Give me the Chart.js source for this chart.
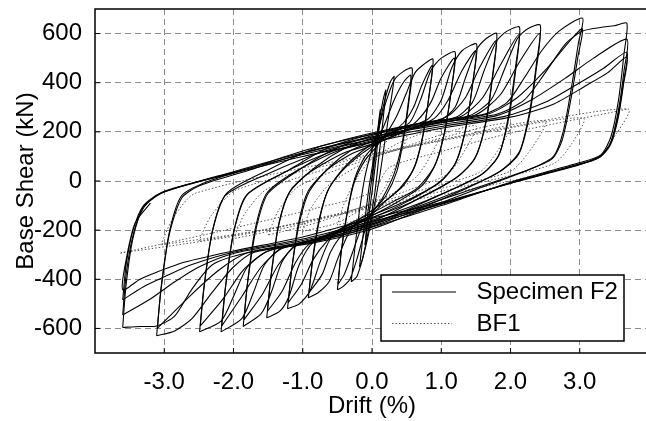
<!DOCTYPE html>
<html><head><meta charset="utf-8">
<script src="https://cdn.jsdelivr.net/npm/chart.js@4.4.1/dist/chart.umd.min.js"></script>
<style>html,body{margin:0;padding:0;background:#fff;overflow:hidden;width:646px;height:421px}</style>
</head><body>
<canvas id="c" width="660" height="421" style="display:block"></canvas>
<script>
const xTicks = [-3, -2, -1, 0, 1, 2, 3];
const xTickLabels = ['-3.0', '-2.0', '-1.0', '0.0', '1.0', '2.0', '3.0'];
const yTicks = [-600, -400, -200, 0, 200, 400, 600];
const seriesNames = ['Specimen F2', 'BF1'];

// Specimen F2 cycles: [drift %, base shear kN]
const f2c0 = [[0,0],[0.05,120],[0.1,250],[0.12,290],[0.08,150],[0.02,0],[-0.04,-130],[-0.1,-260]];
const f2c1 = [[-0.1,-260],[-0.06,-130],[0,20],[0.08,200],[0.16,330],[0.2,370],[0.16,250],[0.1,100],[0.04,-50],[-0.05,-200],[-0.14,-320],[-0.18,-350]];
const f2c2 = [[-0.18,-350],[-0.12,-200],[-0.04,-20],[0.06,150],[0.16,300],[0.26,400],[0.32,425],[0.26,300],[0.18,150],[0.1,0],[0,-150],[-0.12,-300],[-0.22,-390],[-0.3,-410]];
const f2c3 = [[-0.3,-410],[-0.25,-280],[-0.18,-120],[-0.1,20],[0,130],[0.1,220],[0.2,320],[0.32,410],[0.45,445],[0.58,459],[0.54,340],[0.46,180],[0.36,40],[0.2,-60],[0,-130],[-0.1,-200],[-0.22,-320],[-0.32,-400],[-0.42,-430],[-0.5,-443]];
const f2c4 = [[-0.5,-443],[-0.45,-300],[-0.36,-130],[-0.25,10],[-0.1,100],[0.05,150],[0.18,230],[0.32,330],[0.45,400],[0.56,430],[0.52,310],[0.44,160],[0.32,30],[0.15,-70],[0,-130],[-0.15,-190],[-0.28,-290],[-0.4,-380],[-0.49,-420]];
const f2c5 = [[-0.49,-420],[-0.44,-280],[-0.35,-120],[-0.25,0],[-0.1,85],[0.05,135],[0.2,190],[0.35,260],[0.5,360],[0.62,440],[0.75,475],[0.88,496],[0.83,360],[0.74,190],[0.62,60],[0.45,-20],[0.2,-80],[0,-120],[-0.2,-160],[-0.35,-220],[-0.5,-320],[-0.62,-410],[-0.78,-455],[-0.92,-476]];
const f2c6 = [[-0.92,-476],[-0.86,-330],[-0.76,-160],[-0.64,-40],[-0.45,35],[-0.2,100],[0,140],[0.25,190],[0.45,235],[0.6,300],[0.72,390],[0.87,470],[0.82,340],[0.73,180],[0.6,50],[0.4,-30],[0.2,-80],[0,-135],[-0.25,-180],[-0.45,-225],[-0.6,-290],[-0.72,-380],[-0.91,-455]];
const f2c7 = [[-0.91,-455],[-0.85,-300],[-0.75,-140],[-0.62,-30],[-0.4,55],[-0.15,120],[0.1,170],[0.35,205],[0.55,240],[0.7,330],[0.85,450],[1.0,500],[1.2,525],[1.15,380],[1.05,200],[0.92,70],[0.72,-20],[0.4,-80],[0,-140],[-0.4,-190],[-0.6,-235],[-0.75,-330],[-0.9,-450],[-1.05,-500],[-1.22,-520]];
const f2c8 = [[-1.22,-520],[-1.16,-360],[-1.06,-170],[-0.92,-40],[-0.65,45],[-0.3,110],[0,145],[0.4,195],[0.65,245],[0.85,320],[1.0,420],[1.19,500],[1.14,360],[1.04,190],[0.9,60],[0.65,-30],[0.3,-85],[0,-130],[-0.4,-185],[-0.65,-245],[-0.85,-320],[-1.02,-420],[-1.21,-495]];
const f2c9 = [[-1.21,-495],[-1.15,-340],[-1.04,-160],[-0.9,-40],[-0.6,60],[-0.3,125],[0,160],[0.4,210],[0.8,250],[1.0,330],[1.15,460],[1.3,530],[1.51,557],[1.46,410],[1.36,220],[1.22,80],[1.0,0],[0.5,-85],[0,-150],[-0.5,-205],[-0.85,-250],[-1.05,-340],[-1.2,-470],[-1.33,-530],[-1.52,-557]];
const f2c10 = [[-1.52,-557],[-1.46,-390],[-1.35,-180],[-1.2,-50],[-0.9,35],[-0.4,115],[0,150],[0.5,205],[0.9,255],[1.1,330],[1.3,450],[1.5,530],[1.45,390],[1.35,210],[1.2,70],[0.95,-10],[0.5,-80],[0,-140],[-0.5,-200],[-0.9,-255],[-1.1,-330],[-1.3,-450],[-1.51,-530]];
const f2c11 = [[-1.51,-530],[-1.45,-370],[-1.34,-170],[-1.18,-40],[-0.8,60],[-0.4,132],[0,175],[0.5,218],[1.0,250],[1.2,300],[1.35,420],[1.5,530],[1.65,580],[1.8,600],[1.75,450],[1.65,250],[1.5,100],[1.25,20],[0.6,-82],[0,-165],[-0.6,-222],[-1.1,-260],[-1.3,-330],[-1.45,-450],[-1.6,-540],[-1.86,-592]];
const f2c12 = [[-1.86,-592],[-1.8,-420],[-1.69,-200],[-1.52,-50],[-1.1,40],[-0.5,122],[0,160],[0.6,218],[1.1,265],[1.35,340],[1.55,460],[1.79,570],[1.74,420],[1.64,230],[1.48,90],[1.2,10],[0.6,-82],[0,-150],[-0.6,-218],[-1.1,-265],[-1.35,-340],[-1.58,-460],[-1.85,-565]];
const f2c13 = [[-1.85,-565],[-1.79,-400],[-1.67,-190],[-1.5,-50],[-1.0,55],[-0.5,135],[0,185],[0.6,230],[1.2,258],[1.45,320],[1.62,450],[1.8,570],[1.95,610],[2.13,626],[2.08,480],[1.98,280],[1.84,110],[1.6,30],[0.8,-80],[0,-175],[-0.7,-235],[-1.3,-272],[-1.55,-340],[-1.72,-460],[-1.88,-560],[-2.18,-614]];
const f2c14 = [[-2.18,-614],[-2.12,-440],[-2.0,-210],[-1.82,-60],[-1.3,30],[-0.6,118],[0,165],[0.7,225],[1.3,265],[1.6,340],[1.85,470],[2.12,595],[2.07,440],[1.97,250],[1.82,100],[1.55,20],[0.8,-78],[0,-160],[-0.7,-228],[-1.3,-275],[-1.6,-350],[-1.88,-470],[-2.17,-590]];
const f2c15 = [[-2.17,-590],[-2.11,-420],[-1.99,-200],[-1.8,-55],[-1.2,45],[-0.6,140],[0,190],[0.7,235],[1.4,265],[1.72,330],[1.92,460],[2.1,580],[2.25,620],[2.43,634],[2.38,490],[2.28,290],[2.13,120],[1.85,40],[1.0,-75],[0,-185],[-0.8,-245],[-1.5,-285],[-1.8,-350],[-2.0,-470],[-2.18,-570],[-2.49,-614]];
const f2c16 = [[-2.49,-614],[-2.43,-440],[-2.31,-210],[-2.12,-60],[-1.5,30],[-0.7,120],[0,170],[0.8,228],[1.5,270],[1.85,350],[2.12,480],[2.42,600],[2.37,450],[2.27,260],[2.12,110],[1.8,30],[1.0,-68],[0,-170],[-0.8,-235],[-1.5,-285],[-1.85,-360],[-2.15,-480],[-2.48,-590]];
const f2c17 = [[-2.48,-590],[-2.42,-420],[-2.3,-200],[-2.1,-50],[-1.5,45],[-0.8,135],[0,195],[0.8,240],[1.6,270],[1.95,320],[2.2,420],[2.45,530],[2.7,610],[3.04,663],[2.98,560],[2.88,380],[2.76,200],[2.62,100],[2.3,50],[1.5,-35],[0.7,-120],[0,-195],[-0.9,-255],[-1.7,-290],[-2.0,-350],[-2.3,-450],[-2.6,-560],[-2.85,-610],[-3.11,-630]];
const f2c18 = [[-3.11,-630],[-3.05,-450],[-2.93,-220],[-2.75,-70],[-2.5,-20],[-1.8,42],[-0.9,120],[0,178],[0.9,232],[1.7,275],[2.1,340],[2.5,450],[3.03,620],[2.97,500],[2.87,330],[2.75,170],[2.6,90],[2.2,40],[1.4,-38],[0.6,-115],[0,-180],[-0.9,-245],[-1.8,-292],[-2.2,-360],[-2.6,-460],[-3.1,-600]];
const f2c19 = [[-3.1,-600],[-3.04,-420],[-2.92,-200],[-2.75,-60],[-2.4,-5],[-1.7,58],[-0.9,130],[0,190],[0.9,235],[1.8,272],[2.2,330],[2.5,440],[2.8,560],[3.04,610],[3.3,625],[3.5,632],[3.68,642],[3.64,520],[3.56,330],[3.45,180],[3.3,105],[3.0,75],[2.0,-5],[1.0,-100],[0,-188],[-0.9,-250],[-1.8,-292],[-2.3,-340],[-2.6,-440],[-2.85,-550],[-3.11,-590],[-3.35,-592],[-3.6,-596]];
const f2c20 = [[-3.6,-596],[-3.55,-420],[-3.45,-230],[-3.3,-110],[-3.05,-50],[-2.0,38],[-1.0,115],[0,180],[1.0,230],[1.8,266],[2.3,330],[2.8,420],[3.2,500],[3.68,577],[3.64,450],[3.56,290],[3.45,160],[3.3,100],[3.0,70],[2.0,-8],[1.0,-95],[0,-175],[-1.0,-242],[-2.0,-295],[-2.5,-350],[-2.9,-420],[-3.2,-480],[-3.6,-545]];
const f2c21 = [[-3.6,-545],[-3.55,-380],[-3.45,-220],[-3.3,-105],[-3.0,-45],[-2.0,35],[-1.0,108],[0,170],[1.0,222],[1.9,262],[2.5,320],[3.0,400],[3.35,460],[3.68,524],[3.63,400],[3.55,260],[3.44,150],[3.28,98],[3.0,68],[2.0,-8],[1.0,-92],[0,-165],[-1.0,-236],[-2.0,-290],[-2.6,-340],[-3.0,-390],[-3.3,-430],[-3.6,-484]];
const f2c22 = [[-3.6,-484],[-3.55,-340],[-3.45,-200],[-3.3,-100],[-3.0,-42],[-2.0,32],[-1.0,100],[0,158],[1.0,215],[2.0,260],[2.6,310],[3.1,390],[3.4,440],[3.68,504],[3.63,390],[3.55,250],[3.44,145],[3.28,95],[3.0,66],[2.0,-10],[1.0,-88],[0,-152],[-1.0,-228],[-2.0,-285],[-2.7,-330],[-3.1,-370],[-3.35,-400],[-3.6,-443],[-3.55,-320],[-3.42,-170],[-3.2,-90]];

// BF1 cycles
const bf1c0 = [[0,0],[0.1,120],[0.25,170],[0.5,190],[0.4,100],[0.2,-20],[0,-100],[-0.25,-160],[-0.5,-180]];
const bf1c1 = [[-0.5,-180],[-0.4,-90],[-0.2,20],[0,90],[0.5,170],[1.0,210],[0.88,120],[0.65,20],[0.3,-50],[0,-90],[-0.5,-170],[-1.0,-205]];
const bf1c2 = [[-1.0,-205],[-0.88,-110],[-0.6,-10],[0,90],[0.8,170],[1.5,225],[1.35,130],[1.1,30],[0.5,-40],[0,-90],[-0.8,-170],[-1.5,-220]];
const bf1c3 = [[-1.5,-220],[-1.35,-120],[-1.05,-20],[0,95],[1.0,175],[2.0,235],[1.83,130],[1.55,35],[0.8,-30],[0,-95],[-1.0,-175],[-2.0,-235]];
const bf1c4 = [[-2.0,-235],[-1.83,-130],[-1.5,-30],[0,100],[1.3,185],[2.5,245],[2.32,140],[2.0,40],[1.0,-30],[0,-100],[-1.3,-185],[-2.5,-245]];
const bf1c5 = [[-2.5,-245],[-2.32,-140],[-1.95,-35],[0,105],[1.6,195],[3.05,256],[2.88,150],[2.62,70],[1.5,-10],[0,-105],[-1.6,-200],[-3.05,-260]];
const bf1c6 = [[-3.05,-260],[-2.87,-150],[-2.55,-50],[0,110],[1.8,210],[3.7,293],[3.5,180],[3.28,95],[2.0,0],[0,-110],[-2.0,-225],[-3.63,-293]];
const bf1c7 = [[-3.63,-293],[-2.2,-205],[-0.8,-110],[0,-45],[0.25,55],[1.0,120],[2.0,195],[3.7,293]];

const f2Loops = [f2c0,f2c1,f2c2,f2c3,f2c4,f2c5,f2c6,f2c7,f2c8,f2c9,f2c10,f2c11,f2c12,f2c13,f2c14,f2c15,f2c16,f2c17,f2c18,f2c19,f2c20,f2c21,f2c22];
const bf1Loops = [bf1c0,bf1c1,bf1c2,bf1c3,bf1c4,bf1c5,bf1c6,bf1c7];

const FONT = "'Liberation Sans', Arial, Helvetica, sans-serif";
const toPts = loop => loop.map(p => ({x: p[0], y: p[1]}));

const datasets = [];
f2Loops.forEach(l => datasets.push({label: seriesNames[0], data: toPts(l), showLine: true, borderColor: '#000', borderWidth: 1.1, pointRadius: 0, tension: 0.25, fill: false}));
bf1Loops.forEach(l => datasets.push({label: seriesNames[1], data: toPts(l), showLine: true, borderColor: '#555', borderWidth: 1, borderDash: [1.5, 2], pointRadius: 0, tension: 0.25, fill: false}));

const framePlugin = {
  id: 'frame',
  afterDraw(chart) {
    const {ctx, chartArea: a, scales} = chart;
    const line = (x1, y1, x2, y2) => { ctx.beginPath(); ctx.moveTo(x1, y1); ctx.lineTo(x2, y2); ctx.stroke(); };
    ctx.save();
    ctx.strokeStyle = '#000';
    ctx.lineWidth = 1;
    yTicks.forEach(v => { const py = scales.y.getPixelForValue(v); line(a.left, py, a.left + 5, py); });
    xTicks.forEach(v => { const px = scales.x.getPixelForValue(v); line(px, a.bottom, px, a.bottom - 5); });
    ctx.lineWidth = 1.5;
    ctx.strokeRect(a.left, a.top, a.right - a.left, a.bottom - a.top);
    // legend
    const lx = 381, ly = 275, lw = 243, lh = 66;
    ctx.fillStyle = '#fff';
    ctx.fillRect(lx, ly, lw, lh);
    ctx.strokeStyle = '#000';
    ctx.lineWidth = 1.5;
    ctx.strokeRect(lx, ly, lw, lh);
    ctx.lineWidth = 1.2;
    line(392, 292, 456, 292);
    ctx.strokeStyle = '#555';
    ctx.lineWidth = 1;
    ctx.setLineDash([1.5, 2]);
    line(392, 323.5, 452, 323.5);
    ctx.setLineDash([]);
    ctx.fillStyle = '#000';
    ctx.font = '24px ' + FONT;
    ctx.textBaseline = 'middle';
    ctx.textAlign = 'left';
    ctx.fillText(seriesNames[0], 476.5, 292.5);
    ctx.fillText(seriesNames[1], 476.5, 324);
    ctx.restore();
  }
};

const zeroPad = s => { s.paddingLeft = 0; s.paddingRight = 0; s.paddingTop = 0; s.paddingBottom = 0; };

new Chart(document.getElementById('c'), {
  type: 'scatter',
  data: {datasets},
  options: {
    responsive: false,
    animation: false,
    layout: {padding: {top: 9, right: 11, left: 0, bottom: 0}},
    plugins: {legend: {display: false}, tooltip: {enabled: false}},
    scales: {
      x: {
        type: 'linear', min: -4, max: 4,
        afterBuildTicks: s => { s.ticks = xTicks.map(v => ({value: v})); },
        afterFit: s => { s.height = 68; zeroPad(s); },
        ticks: {autoSkip: false, maxRotation: 0, padding: 15, color: '#000', font: {family: FONT, size: 24},
          callback: v => xTickLabels[xTicks.indexOf(v)]},
        grid: {color: '#8c8c8c', lineWidth: 1, drawTicks: false},
        border: {display: false, dash: [6, 4]},
        title: {display: true, text: 'Drift (%)', color: '#000', font: {family: FONT, size: 24}, padding: {top: 0, bottom: 0}}
      },
      y: {
        type: 'linear', min: -700, max: 700,
        afterBuildTicks: s => { s.ticks = yTicks.map(v => ({value: v})); },
        afterFit: s => { s.width = 95; zeroPad(s); },
        ticks: {padding: 13, color: '#000', font: {family: FONT, size: 24}, callback: v => String(v)},
        grid: {color: '#8c8c8c', lineWidth: 1, drawTicks: false},
        border: {display: false, dash: [6, 4]},
        title: {display: true, text: 'Base Shear (kN)', color: '#000', font: {family: FONT, size: 24}, padding: {top: 12, bottom: 0}}
      }
    }
  },
  plugins: [framePlugin]
});
</script>
</body></html>
